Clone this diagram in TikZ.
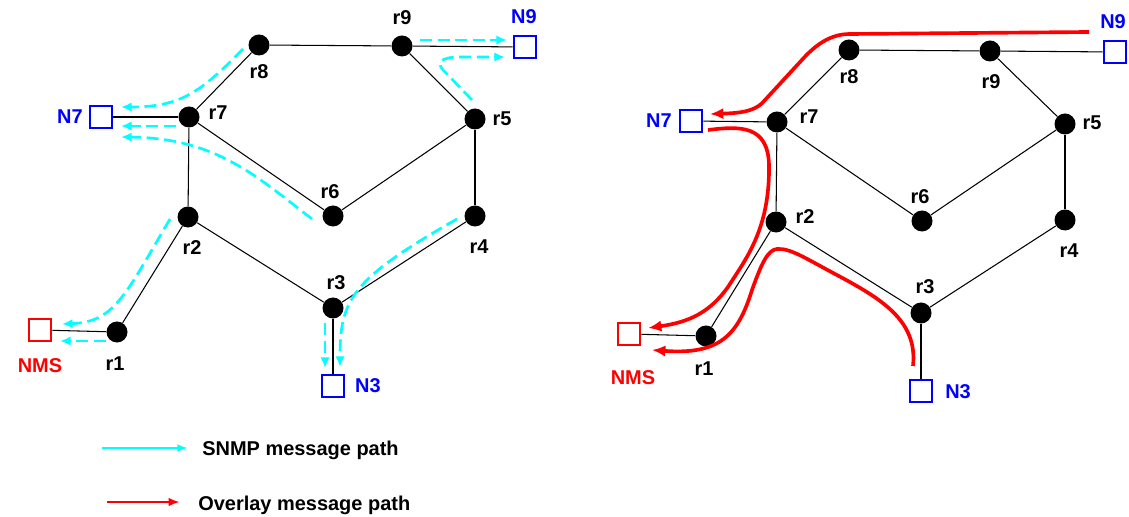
\documentclass[tikz,border=0pt]{standalone}
\usepackage{fontspec}
\setmainfont{Liberation Sans}
\usetikzlibrary{arrows.meta}
\definecolor{snmpcyan}{RGB}{0,255,255}
\definecolor{hostblue}{RGB}{0,0,255}
\definecolor{ovred}{RGB}{255,0,0}

\begin{document}
\begin{tikzpicture}[x=0.025cm, y=-0.025cm,
    font=\fontsize{14.2pt}{17pt}\selectfont\bfseries,
    router/.style={circle, fill=black, inner sep=0pt, minimum size=0.525cm},
    host/.style={draw, line width=1.4pt, inner sep=0pt, minimum size=0.57cm},
    link/.style={line width=0.75pt},
    lbl/.style={inner sep=0pt},
    snmp/.style={snmpcyan, line width=1.9pt, dash pattern=on 8.5pt off 4pt, -{Latex[length=7.5pt,width=6.5pt]}},
    overlay/.style={ovred, line width=2.6pt, -{Latex[length=9.5pt,width=8pt]}}]

    \useasboundingbox (0,0) rectangle (1129,517);

    % Draw the routers of the SNMP network (left)
    \foreach \n/\x/\y/\lx/\ly in {r1/117/332/115/364, r2/188/217/192/248, r3/333/308/336/283,
        r4/475/216/479/247, r5/475/119/502/119, r6/333/216/330/192,
        r7/189/117/218/113, r8/259/45/259/72, r9/402/46/402/18} {
        \node[router] (s-\n) at (\x,\y) {};
        \node[lbl] (s-\n-t) at (\lx,\ly) {\n};
    }

    % Draw the routers of the overlay network (right)
    \foreach \n/\x/\y/\lx/\ly in {r1/706/336/704/369, r2/776/222/805/217, r3/921/313/925/287,
        r4/1065/220/1069/251, r5/1065/124/1092/123, r6/922/221/920/197,
        r7/777/122/809/117, r8/849/50/849/77, r9/990/51/991/82} {
        \node[router] (o-\n) at (\x,\y) {};
        \node[lbl] (o-\n-t) at (\lx,\ly) {\n};
    }

    % Draw the hosts and the management station
    \foreach \n/\x/\y/\lx/\ly/\col in {N7/101/117/70/117/hostblue, N9/525/47/524/17/hostblue,
        N3/333/386/368/386/hostblue, NMS/40/330/40/366/ovred} {
        \node[host, draw=\col] (s-\n) at (\x,\y) {};
        \node[lbl, text=\col] (s-\n-t) at (\lx,\ly) {\n};
    }
    \foreach \n/\x/\y/\lx/\ly/\col in {N7/691/121/659/121/hostblue, N9/1115/52/1113/22/hostblue,
        N3/921/391/958/392/hostblue, NMS/629/334/633/378/ovred} {
        \node[host, draw=\col] (o-\n) at (\x,\y) {};
        \node[lbl, text=\col] (o-\n-t) at (\lx,\ly) {\n};
    }

    % Draw the links, same in both networks
    \foreach \a/\b in {r8/r9, r9/N9, r9/r5, r8/r7, r7/N7, r7/r6, r7/r2, r6/r5,
        r5/r4, r2/r1, r1/NMS, r2/r3, r3/r4, r3/N3} {
        \draw[link] (s-\a) -- (s-\b);
        \draw[link] (o-\a) -- (o-\b);
    }

    % SNMP message paths
    \draw[snmp] (243,49) .. controls (200,93) and (180,107) .. (121,107);
    \draw[snmp] (176,126) -- (121,126);
    \draw[snmp] (312,219) .. controls (255,175) and (215,138) .. (121,137);
    \draw[snmp] (420,40) -- (507,40);
    \draw[snmp] (472,100) -- (444,71) .. controls (436,63) and (440,57) .. (460,57) -- (505,57);
    \draw[snmp] (170,219) .. controls (125,295) and (115,322) .. (62,324);
    \draw[snmp] (106,341) -- (60,341);
    \draw[snmp] (325,323) -- (325,368);
    \draw[snmp] (457,219) .. controls (350,280) and (340,300) .. (340,367);

    % Overlay message paths
    \draw[overlay] (1089,32) -- (850,34) .. controls (830,34) and (815,45) .. (800,62)
        -- (765,100) .. controls (757,110) and (745,113) .. (710,114);
    \draw[overlay] (708,130) .. controls (740,126) and (768,125) .. (769,165)
        .. controls (770,230) and (745,260) .. (728,287)
        .. controls (710,312) and (690,322) .. (648,328);
    \draw[overlay] (913,366) .. controls (918,320) and (880,298) .. (835,274)
        .. controls (805,258) and (790,248) .. (777,249)
        .. controls (768,250) and (762,262) .. (752,290)
        .. controls (738,335) and (720,355) .. (652,350);

    % Legend
    \coordinate (snmp-s) at (102,448);
    \node[lbl, anchor=base west] (snmp-t) at (202,455) {SNMP message path};
    \draw[snmpcyan, line width=1.5pt, -{Latex[length=7.5pt,width=5.5pt]}, shorten >=0.35cm]
        (snmp-s) -- (snmp-s -| snmp-t.west);
    \coordinate (over-s) at (107,502);
    \node[lbl, anchor=base west] (over-t) at (198,510.5) {Overlay message path};
    \draw[ovred, line width=1.8pt, -{Latex[length=8pt,width=6pt]}, shorten >=0.45cm]
        (over-s) -- (over-s -| over-t.west);

\end{tikzpicture}
\end{document}
